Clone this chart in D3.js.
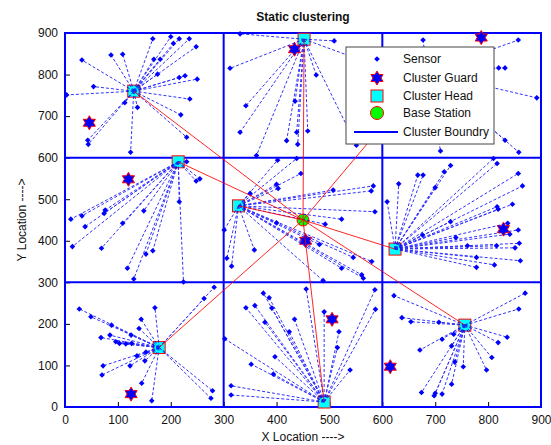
<!DOCTYPE html>
<html><head><meta charset="utf-8">
<script src="https://cdn.jsdelivr.net/npm/d3@7"></script>
<style>body{margin:0;background:#fff;}svg{display:block;font-family:"Liberation Sans",Arial,sans-serif;}</style>
</head><body><svg id="c" width="551" height="445"></svg>
<script>
// ---- data ----
const xTicks = [0,100,200,300,400,500,600,700,800,900];
const yTicks = [0,100,200,300,400,500,600,700,800,900];
const boundaries = [300, 600];
const baseStation = [450, 450];
const heads = [[130,760],[452,885],[685,805],[214,590],[328,484],[624,380],[178,143],[490,12],[756,197]];
const guards = [[46,684],[434,861],[787,889],[120,548],[455,400],[829,428],[125,31],[505,211],[615,97]];
const s1 = [[166,886],[200,891],[205,875],[216,886],[235,886],[248,867],[32,835],[87,847],[109,849],[168,837],[180,837],[175,801],[216,793],[227,797],[250,789],[54,771],[3,751],[139,767],[236,741],[113,732],[137,721],[219,703],[230,649],[43,642],[44,632],[124,613]];
const s2 = [[331,898],[509,881],[312,815],[475,799],[342,725],[435,736],[331,661],[438,661],[459,664],[419,641],[440,632],[362,605],[551,630],[570,830]];
const s3 = [[677,883],[857,883],[820,816],[832,816],[892,744],[832,642],[858,613],[710,616],[740,770],[780,700],[650,720]];
const s4 = [[230,590],[248,544],[255,549],[216,494],[32,460],[11,452],[76,474],[74,466],[149,472],[38,434],[109,442],[14,386],[69,382],[153,368],[166,376],[118,334],[130,308],[224,301]];
const s5 = [[402,594],[438,598],[446,562],[400,536],[403,526],[507,522],[583,532],[579,520],[350,514],[586,470],[523,452],[492,440],[301,426],[306,358],[400,443],[481,391],[358,378],[315,339],[545,360],[523,334],[580,350],[561,318],[564,310],[488,304]];
const s6 = [[810,598],[817,586],[729,581],[717,566],[667,558],[677,558],[857,562],[631,537],[865,532],[700,528],[609,494],[846,488],[817,482],[819,476],[729,446],[837,442],[857,426],[841,416],[676,414],[739,408],[859,394],[851,383],[761,388],[816,388],[778,360],[861,352],[812,342],[778,336]];
const s7 = [[282,288],[263,261],[27,236],[49,217],[170,239],[88,197],[144,211],[140,189],[68,167],[85,173],[96,157],[103,153],[115,152],[126,153],[125,173],[153,132],[136,123],[151,111],[123,99],[72,99],[70,77],[145,57],[164,15],[279,39],[276,21]];
const s8 = [[456,284],[375,274],[386,263],[342,239],[359,244],[391,238],[586,282],[587,235],[490,229],[434,211],[378,204],[424,181],[518,181],[302,164],[515,143],[397,121],[352,103],[539,89],[394,79],[314,51],[314,29]];
const s9 = [[870,274],[858,236],[622,268],[637,215],[654,205],[707,204],[836,168],[819,155],[713,163],[735,175],[731,147],[671,137],[807,119],[737,108],[753,97],[797,89],[731,55],[674,35],[700,33],[698,27],[713,31]];
const clusters = [s1,s2,s3,s4,s5,s6,s7,s8,s9];
const legendItems = ["Sensor","Cluster Guard","Cluster Head","Base Station","Cluster Boundry"];

// ---- chart ----
const svg = d3.select("#c");
const x = d3.scaleLinear().domain([0,900]).range([65,541]);
const y = d3.scaleLinear().domain([0,900]).range([407,33]);
const BLUE = "#0000ff", RED = "#ff0000";

function hexagram(R){
  const r = R/Math.sqrt(3); const pts=[];
  for(let i=0;i<12;i++){const a=-Math.PI/2+i*Math.PI/6; const rr=i%2?r:R; pts.push([rr*Math.cos(a), rr*Math.sin(a)]);}
  return "M"+pts.map(p=>p.join(",")).join("L")+"Z";
}
const diamond = "M0,-2.8L2.8,0L0,2.8L-2.8,0Z";

// axes ticks
const gx = svg.append("g").attr("transform","translate(0,407)")
  .call(d3.axisBottom(x).tickValues(xTicks).tickSizeInner(-5).tickSizeOuter(0).tickPadding(8));
const gy = svg.append("g").attr("transform","translate(65,0)")
  .call(d3.axisLeft(y).tickValues(yTicks).tickSizeInner(-5).tickSizeOuter(0).tickPadding(7));
[gx,gy].forEach(g=>{g.select(".domain").remove(); g.selectAll("line").attr("stroke","#000");
  g.selectAll("text").attr("font-size",12).attr("fill","#111").attr("font-family","Liberation Sans, Arial, sans-serif");});

// boundaries
const gb = svg.append("g").attr("stroke",BLUE).attr("stroke-width",2).attr("fill","none");
gb.append("rect").attr("x",x(0)).attr("y",y(900)).attr("width",x(900)-x(0)).attr("height",y(0)-y(900));
boundaries.forEach(v=>{
  gb.append("line").attr("x1",x(v)).attr("x2",x(v)).attr("y1",y(0)).attr("y2",y(900));
  gb.append("line").attr("x1",x(0)).attr("x2",x(900)).attr("y1",y(v)).attr("y2",y(v));
});

// sensors
const allS = clusters.flatMap((c,i)=>c.map(p=>({p,h:heads[i]})));
svg.append("g").selectAll("path").data(allS).join("path")
  .attr("d",diamond).attr("fill",BLUE)
  .attr("transform",d=>`translate(${x(d.p[0])},${y(d.p[1])})`);
// guards
svg.append("g").selectAll("path").data(guards).join("path")
  .attr("d",hexagram(7)).attr("fill",BLUE).attr("stroke",RED).attr("stroke-width",1)
  .attr("transform",d=>`translate(${x(d[0])},${y(d[1])})`);
// heads
svg.append("g").selectAll("rect").data(heads).join("rect")
  .attr("x",d=>x(d[0])-6).attr("y",d=>y(d[1])-6).attr("width",12).attr("height",12)
  .attr("fill","#00ffff").attr("stroke",RED).attr("stroke-width",1);
// base station
svg.append("circle").attr("cx",x(baseStation[0])).attr("cy",y(baseStation[1])).attr("r",6)
  .attr("fill","#00ff00").attr("stroke",RED).attr("stroke-width",1);
// dashed links
svg.append("g").attr("stroke",BLUE).attr("stroke-width",1).attr("stroke-dasharray","3,2").attr("opacity",0.8)
  .selectAll("line").data(allS).join("line")
  .attr("x1",d=>x(d.h[0])).attr("y1",d=>y(d.h[1])).attr("x2",d=>x(d.p[0])).attr("y2",d=>y(d.p[1]));
// red links to base
svg.append("g").attr("stroke",RED).attr("stroke-width",1).attr("opacity",0.85)
  .selectAll("line").data(heads).join("line")
  .attr("x1",d=>x(d[0])).attr("y1",d=>y(d[1])).attr("x2",x(baseStation[0])).attr("y2",y(baseStation[1]));

// title & labels
svg.append("text").attr("x",303).attr("y",21).attr("text-anchor","middle").attr("font-size",12).attr("font-weight","bold").attr("fill","#111").text("Static clustering");
svg.append("text").attr("x",303).attr("y",441).attr("text-anchor","middle").attr("font-size",12).attr("fill","#111").text("X Location ---->");
svg.append("text").attr("transform","translate(26,220) rotate(-90)").attr("text-anchor","middle").attr("font-size",12).attr("fill","#111").text("Y Location ---->");

// legend
const lg = svg.append("g");
lg.append("rect").attr("x",346).attr("y",47).attr("width",148).attr("height",97).attr("fill","#fff").attr("stroke","#444").attr("stroke-width",1);
const rowY = [59,78,96,113,132];
legendItems.forEach((t,i)=>{
  lg.append("text").attr("x",403).attr("y",rowY[i]+4).attr("font-size",12).attr("fill","#111").text(t);
});
lg.append("path").attr("d",diamond).attr("fill",BLUE).attr("transform",`translate(377,${rowY[0]})`);
lg.append("path").attr("d",hexagram(7)).attr("fill",BLUE).attr("stroke",RED).attr("transform",`translate(377,${rowY[1]})`);
lg.append("rect").attr("x",371).attr("y",rowY[2]-6).attr("width",12).attr("height",12).attr("fill","#00ffff").attr("stroke",RED);
lg.append("circle").attr("cx",377).attr("cy",rowY[3]).attr("r",6.5).attr("fill","#00ff00").attr("stroke",RED);
lg.append("line").attr("x1",354).attr("x2",398).attr("y1",rowY[4]).attr("y2",rowY[4]).attr("stroke",BLUE).attr("stroke-width",2);
</script></body></html>
